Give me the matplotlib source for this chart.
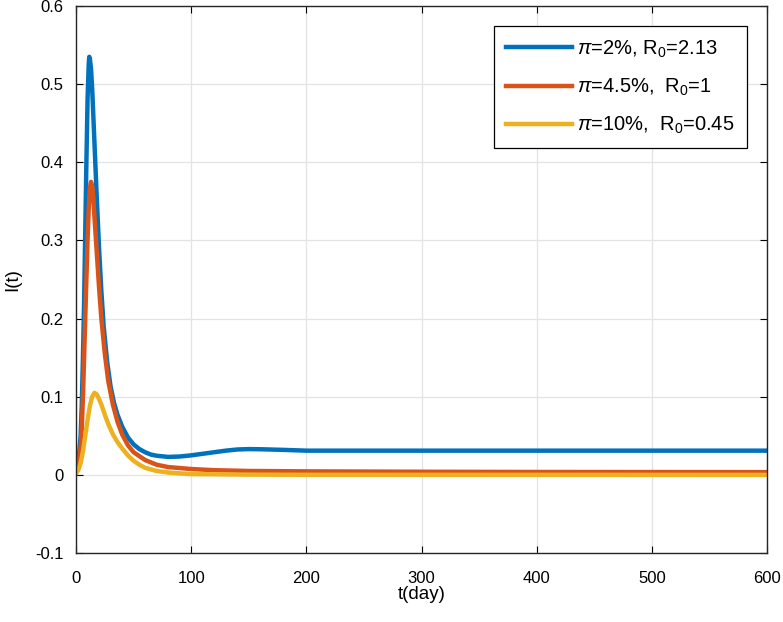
import numpy as np
import matplotlib
matplotlib.use('Agg')
import matplotlib.pyplot as plt

plt.rcParams['font.family'] = ['Liberation Sans', 'DejaVu Sans']
plt.rcParams['mathtext.fontset'] = 'custom'
plt.rcParams['mathtext.rm'] = 'Liberation Sans'
plt.rcParams['mathtext.it'] = 'Liberation Sans:italic'

# valores
t_blue = [0, 2, 4, 5, 6, 7, 8, 9, 10, 11, 11.5, 12, 13, 14, 15, 16, 17, 18, 20, 22, 24, 27,
          30, 33, 36, 40, 45, 50, 55, 60, 65, 70, 80, 90, 100, 110, 120, 130, 140, 150,
          160, 180, 200, 250, 300, 400, 500, 600]
I_blue = [0.003, 0.015, 0.05, 0.09, 0.15, 0.22, 0.31, 0.40, 0.48, 0.525, 0.535, 0.533, 0.52,
          0.495, 0.46, 0.425, 0.39, 0.355, 0.29, 0.235, 0.19, 0.145, 0.113, 0.092, 0.077,
          0.062, 0.048, 0.039, 0.033, 0.029, 0.026, 0.0245, 0.023, 0.0235, 0.025, 0.027,
          0.029, 0.031, 0.0325, 0.033, 0.0328, 0.032, 0.031, 0.031, 0.031, 0.031, 0.031, 0.031]

t_orange = [0, 2, 4, 5, 6, 7, 8, 9, 10, 11, 12, 13, 14, 15, 16, 18, 20, 22, 25, 28, 32, 36,
            40, 45, 50, 60, 70, 80, 100, 120, 150, 200, 300, 400, 600]
I_orange = [0.003, 0.012, 0.035, 0.06, 0.10, 0.15, 0.20, 0.25, 0.30, 0.34, 0.367, 0.375,
            0.37, 0.355, 0.33, 0.285, 0.24, 0.20, 0.155, 0.12, 0.09, 0.068, 0.052, 0.038,
            0.029, 0.019, 0.013, 0.010, 0.0075, 0.006, 0.005, 0.0045, 0.004, 0.0037, 0.0035]

t_yellow = [0, 2, 4, 6, 8, 10, 12, 14, 16, 18, 20, 22, 25, 28, 32, 36, 40, 45, 50, 55, 60,
            70, 80, 100, 150, 200, 600]
I_yellow = [0.002, 0.006, 0.015, 0.03, 0.05, 0.07, 0.088, 0.1, 0.105, 0.103, 0.097, 0.09,
            0.077, 0.065, 0.052, 0.042, 0.034, 0.025, 0.018, 0.013, 0.009, 0.005, 0.003,
            0.001, 0.0003, 0.0001, 0.0]

etiquetas = [r'$\pi$=2%, R$_0$=2.13', r'$\pi$=4.5%,  R$_0$=1', r'$\pi$=10%,  R$_0$=0.45']
colores = ['#0072BD', '#D95319', '#EDB120']

fig = plt.figure(figsize=(7.83, 6.22), dpi=100)
ax = fig.add_axes([0.0971, 0.1109, 0.8825, 0.8794])

ax.plot(t_blue, I_blue, color=colores[0], lw=3.2, label=etiquetas[0])
ax.plot(t_orange, I_orange, color=colores[1], lw=3.2, label=etiquetas[1])
ax.plot(t_yellow, I_yellow, color=colores[2], lw=3.2, label=etiquetas[2])

ax.set_xlim(0, 600)
ax.set_ylim(-0.1, 0.6)
ax.set_xticks(np.arange(0, 601, 100))
ax.set_yticks(np.arange(-0.1, 0.61, 0.1))
ax.set_yticklabels(['-0.1', '0', '0.1', '0.2', '0.3', '0.4', '0.5', '0.6'])
ax.tick_params(direction='in', top=True, right=True, labelsize=12, length=5, width=0.8)
ax.tick_params(axis='x', pad=13)
ax.tick_params(axis='y', pad=9)
ax.grid(True, color='#e3e3e3', lw=0.9)
for s in ax.spines.values():
    s.set_linewidth(1.0)
    s.set_color('#262626')

ax.set_xlabel('t(day)', fontsize=13.5, labelpad=0)
ax.set_ylabel('I(t)', fontsize=13.5, labelpad=10)

leg = ax.legend(loc='upper right', fontsize=14.5, handlelength=3.3, handletextpad=0.25,
                borderaxespad=1.0, borderpad=0.6, fancybox=False, framealpha=1,
                edgecolor='black', labelspacing=0.85)
leg.get_frame().set_linewidth(0.9)

fig.savefig('out.png', dpi=100)
